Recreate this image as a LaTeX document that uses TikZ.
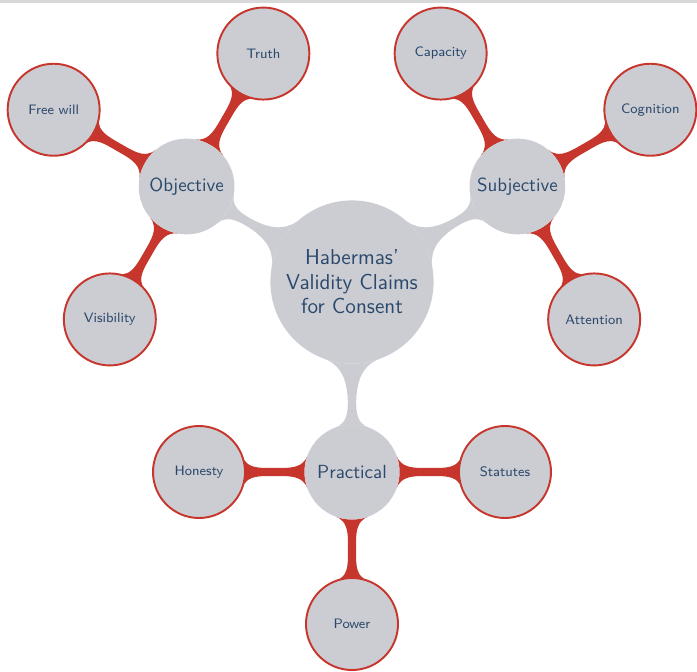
\documentclass[tikz,border=0pt]{standalone}
\usetikzlibrary{%
    backgrounds,
    calc,
    mindmap
}
\definecolor{conceptgray}{RGB}{204,205,211}
\definecolor{barred}{RGB}{199,54,44}
\definecolor{labelblue}{RGB}{43,73,108}
\definecolor{topgray}{RGB}{216,216,216}
\tikzset{
    root concept box/.style = {concept, fill=conceptgray, draw=none, text=labelblue,
        minimum size=3.16cm, text width=2.9cm, align=center,
        font=\sffamily\fontsize{12.3}{14}\selectfont},
    inner concept/.style = {concept, fill=conceptgray, draw=none, text=labelblue,
        minimum size=1.86cm, text width=1.8cm, align=center,
        font=\sffamily\fontsize{10.8}{13}\selectfont},
    outer concept/.style = {concept, fill=conceptgray, draw=barred, line width=1.1pt,
        text=labelblue, minimum size=1.84cm, text width=1.7cm, align=center,
        font=\sffamily\fontsize{7.8}{9.5}\selectfont}
}

\begin{document}
\begin{tikzpicture}[
    mindmap,
    graybar/.style = {circle connection bar switch color=from (conceptgray) to (conceptgray)},
    redbar/.style = {circle connection bar switch color=from (barred) to (barred)}]
    \useasboundingbox (-7.04,-7.78) rectangle (6.90,5.64);
    \fill[topgray] (-7.04,5.58) rectangle (6.90,5.64);

    \node[root concept box] (root) at (0,0) {Habermas'\\Validity Claims\\for Consent};

    % first ring
    \node[inner concept] (objective) at ($(root)+(150:3.82)$) {Objective};
    \node[inner concept] (subjective) at ($(root)+(30:3.82)$) {Subjective};
    \node[inner concept] (practical) at ($(root)+(270:3.80)$) {Practical};

    % second ring
    \node[outer concept] (truth) at ($(objective)+(60:3.07)$) {Truth};
    \node[outer concept] (freewill) at ($(objective)+(150:3.07)$) {Free will};
    \node[outer concept] (visibility) at ($(objective)+(240:3.07)$) {Visibility};
    \node[outer concept] (capacity) at ($(subjective)+(120:3.07)$) {Capacity};
    \node[outer concept] (cognition) at ($(subjective)+(30:3.07)$) {Cognition};
    \node[outer concept] (attention) at ($(subjective)+(300:3.07)$) {Attention};
    \node[outer concept] (honesty) at ($(practical)+(180:3.06)$) {Honesty};
    \node[outer concept] (statutes) at ($(practical)+(0:3.06)$) {Statutes};
    \node[outer concept] (power) at ($(practical)+(270:3.04)$) {Power};

    \begin{pgfonlayer}{background}
        \path (root) to[graybar] (objective);
        \path (root) to[graybar] (subjective);
        \path (root) to[graybar] (practical);
        \foreach \from/\to in {objective/truth, objective/freewill, objective/visibility,
                subjective/capacity, subjective/cognition, subjective/attention,
                practical/honesty, practical/statutes, practical/power}
            \path (\from) to[redbar] (\to);
    \end{pgfonlayer}
\end{tikzpicture}
\end{document}
